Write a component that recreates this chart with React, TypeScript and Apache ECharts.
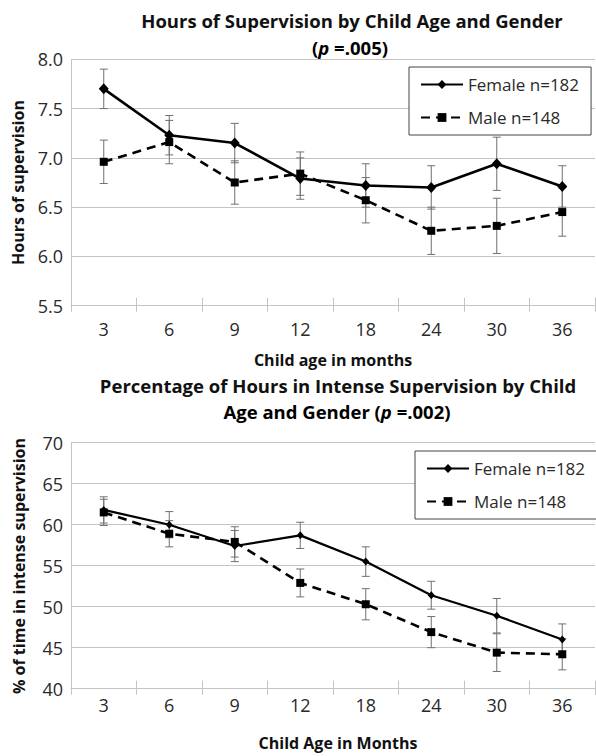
import React, { useEffect, useRef } from "react";
import * as echarts from "echarts";

const ages = ["3", "6", "9", "12", "18", "24", "30", "36"];

const hoursFemale = [7.7, 7.23, 7.15, 6.79, 6.72, 6.7, 6.94, 6.71];
const hoursFemaleErr = [0.2, 0.2, 0.2, 0.21, 0.22, 0.22, 0.27, 0.21];
const hoursMale = [6.96, 7.16, 6.75, 6.84, 6.57, 6.26, 6.31, 6.45];
const hoursMaleErr = [0.22, 0.22, 0.22, 0.22, 0.23, 0.24, 0.28, 0.245];

const pctFemale = [61.8, 60.0, 57.4, 58.7, 55.5, 51.4, 48.9, 46.0];
const pctFemaleErr = [1.6, 1.6, 1.9, 1.6, 1.8, 1.7, 2.1, 1.9];
const pctMale = [61.5, 58.9, 57.9, 52.9, 50.3, 46.9, 44.4, 44.2];
const pctMaleErr = [1.6, 1.6, 1.85, 1.7, 1.9, 1.9, 2.3, 1.9];

const hoursTicks = { min: 5.5, max: 8.0, interval: 0.5 };
const pctTicks = { min: 40, max: 70, interval: 5 };

const FEMALE = "Female n=182";
const MALE = "Male n=148";

const FONT = "'Open Sans', 'Noto Sans', sans-serif";
const GRID_COLOR = "#c4c4c4";
const TEXT_COLOR = "#2a2a2a";
const ERR_COLOR = "#707070";

function errData(mean: number[], err: number[]) {
  return mean.map((m, i) => [i, m - err[i], m + err[i]]);
}

function errRender(params: any, api: any) {
  const idx = api.value(0);
  const lo = api.coord([idx, api.value(1)]);
  const hi = api.coord([idx, api.value(2)]);
  const hw = 4;
  const style = { stroke: ERR_COLOR, lineWidth: 1 };
  return {
    type: "group",
    children: [
      { type: "line", shape: { x1: lo[0], y1: lo[1], x2: hi[0], y2: hi[1] }, style },
      { type: "line", shape: { x1: lo[0] - hw, y1: lo[1], x2: lo[0] + hw, y2: lo[1] }, style },
      { type: "line", shape: { x1: hi[0] - hw, y1: hi[1], x2: hi[0] + hw, y2: hi[1] }, style },
    ],
  };
}

function mainX(gridIndex: number, margin: number) {
  return {
    type: "category",
    gridIndex,
    data: ages,
    boundaryGap: true,
    axisLine: { show: true, lineStyle: { color: GRID_COLOR, width: 1 } },
    axisTick: { show: true, inside: true, length: 8, alignWithLabel: false, lineStyle: { color: GRID_COLOR } },
    axisLabel: { margin, fontSize: 18, fontFamily: FONT, color: TEXT_COLOR },
    splitLine: { show: false },
  };
}

function outerX(gridIndex: number) {
  return {
    type: "category",
    gridIndex,
    position: "bottom",
    data: ages,
    boundaryGap: true,
    axisLine: { show: false },
    axisTick: { show: true, inside: false, length: 6, lineStyle: { color: GRID_COLOR } },
    axisLabel: { show: false },
    splitLine: { show: false },
  };
}

function yAx(gridIndex: number, t: { min: number; max: number; interval: number }, digits: number) {
  return {
    type: "value",
    gridIndex,
    min: t.min,
    max: t.max,
    interval: t.interval,
    axisLine: { show: true, lineStyle: { color: GRID_COLOR, width: 1 } },
    axisTick: { show: false },
    axisLabel: {
      margin: 8,
      fontSize: 18,
      fontFamily: FONT,
      color: TEXT_COLOR,
      formatter: (v: number) => v.toFixed(digits),
    },
    splitLine: { show: true, lineStyle: { color: GRID_COLOR, width: 1 } },
  };
}

function legendAt(left: number, top: number) {
  return {
    left,
    top,
    orient: "vertical",
    data: [FEMALE, MALE],
    backgroundColor: "#fff",
    borderColor: "#444",
    borderWidth: 1,
    padding: [9, 12, 9, 11],
    itemGap: 16,
    itemWidth: 42,
    itemHeight: 11,
    itemTextGap: 5,
    selectedMode: false,
    textStyle: { fontSize: 17, fontFamily: FONT, color: TEXT_COLOR },
  };
}

export default function App() {
  const ref = useRef<HTMLDivElement>(null);

  useEffect(() => {
    document.body.style.margin = "0";
    if (!ref.current) return;
    const chart = echarts.init(ref.current, undefined, { renderer: "svg" });

    const titleBold = { fontFamily: FONT, fontWeight: "bold", fontSize: 18.5, fill: "#111" };
    const nameBold = { fontFamily: FONT, fontWeight: "bold", fontSize: 16, fill: "#111" };
    const richTitle = (italic: boolean) => ({
      fontFamily: FONT,
      fontWeight: "bold",
      fontSize: 18.5,
      color: "#111",
      fontStyle: italic ? "italic" : "normal",
    });

    const option: any = {
      animation: false,
      backgroundColor: "#fff",
      grid: [
        { left: 71, right: 1, top: 59.3, height: 246.4, containLabel: false },
        { left: 71, right: 1, top: 442.7, height: 246, containLabel: false },
      ],
      xAxis: [mainX(0, 14.5), outerX(0), mainX(1, 7), outerX(1)],
      yAxis: [yAx(0, hoursTicks, 1), yAx(1, pctTicks, 0)],
      legend: [legendAt(409, 67), legendAt(415, 451)],
      series: [
        {
          type: "custom",
          name: "femaleErrTop",
          xAxisIndex: 0,
          yAxisIndex: 0,
          renderItem: errRender,
          data: errData(hoursFemale, hoursFemaleErr),
          z: 1,
          silent: true,
        },
        {
          type: "custom",
          name: "maleErrTop",
          xAxisIndex: 0,
          yAxisIndex: 0,
          renderItem: errRender,
          data: errData(hoursMale, hoursMaleErr),
          z: 1,
          silent: true,
        },
        {
          type: "line",
          name: FEMALE,
          xAxisIndex: 0,
          yAxisIndex: 0,
          data: hoursFemale,
          symbol: "diamond",
          symbolSize: [10, 11],
          lineStyle: { color: "#000", width: 2.6, type: "solid" },
          itemStyle: { color: "#000" },
          z: 3,
        },
        {
          type: "line",
          name: MALE,
          xAxisIndex: 0,
          yAxisIndex: 0,
          data: hoursMale,
          symbol: "rect",
          symbolSize: 8,
          lineStyle: { color: "#000", width: 2.6, type: [9, 6] },
          itemStyle: { color: "#000" },
          z: 2,
        },
        {
          type: "custom",
          name: "femaleErrBot",
          xAxisIndex: 2,
          yAxisIndex: 1,
          renderItem: errRender,
          data: errData(pctFemale, pctFemaleErr),
          z: 1,
          silent: true,
        },
        {
          type: "custom",
          name: "maleErrBot",
          xAxisIndex: 2,
          yAxisIndex: 1,
          renderItem: errRender,
          data: errData(pctMale, pctMaleErr),
          z: 1,
          silent: true,
        },
        {
          type: "line",
          name: FEMALE,
          xAxisIndex: 2,
          yAxisIndex: 1,
          data: pctFemale,
          symbol: "diamond",
          symbolSize: [7, 8],
          lineStyle: { color: "#000", width: 2.2, type: "solid" },
          itemStyle: { color: "#000" },
          z: 3,
        },
        {
          type: "line",
          name: MALE,
          xAxisIndex: 2,
          yAxisIndex: 1,
          data: pctMale,
          symbol: "rect",
          symbolSize: 8,
          lineStyle: { color: "#000", width: 2.6, type: [9, 6] },
          itemStyle: { color: "#000" },
          z: 2,
        },
      ],
      graphic: [
        {
          type: "text",
          x: 352,
          y: 20,
          style: { ...titleBold, text: "Hours of Supervision by Child Age and Gender", textAlign: "center", textVerticalAlign: "middle" },
        },
        {
          type: "text",
          x: 350,
          y: 47,
          style: {
            text: "{n|(}{i|p}{n| =.005)}",
            textAlign: "center",
            textVerticalAlign: "middle",
            rich: { n: richTitle(false), i: richTitle(true) },
          },
        },
        {
          type: "text",
          x: 333,
          y: 360,
          style: { ...nameBold, text: "Child age in months", textAlign: "center", textVerticalAlign: "middle" },
        },
        {
          type: "text",
          x: 17.5,
          y: 182.5,
          rotation: Math.PI / 2,
          style: { ...nameBold, text: "Hours of supervision", textAlign: "center", textVerticalAlign: "middle" },
        },
        {
          type: "text",
          x: 338,
          y: 385,
          style: { ...titleBold, text: "Percentage of Hours in Intense Supervision by Child", textAlign: "center", textVerticalAlign: "middle" },
        },
        {
          type: "text",
          x: 337,
          y: 411.5,
          style: {
            text: "{n|Age and Gender (}{i|p}{n| =.002)}",
            textAlign: "center",
            textVerticalAlign: "middle",
            rich: { n: richTitle(false), i: richTitle(true) },
          },
        },
        {
          type: "text",
          x: 338,
          y: 743,
          style: { ...nameBold, text: "Child Age in Months", textAlign: "center", textVerticalAlign: "middle" },
        },
        {
          type: "text",
          x: 19,
          y: 566,
          rotation: Math.PI / 2,
          style: { ...nameBold, text: "% of time in intense supervision", textAlign: "center", textVerticalAlign: "middle" },
        },
      ],
    };

    chart.setOption(option);
    return () => {
      chart.dispose();
    };
  }, []);

  return <div ref={ref} style={{ width: 596, height: 756 }} />;
}
